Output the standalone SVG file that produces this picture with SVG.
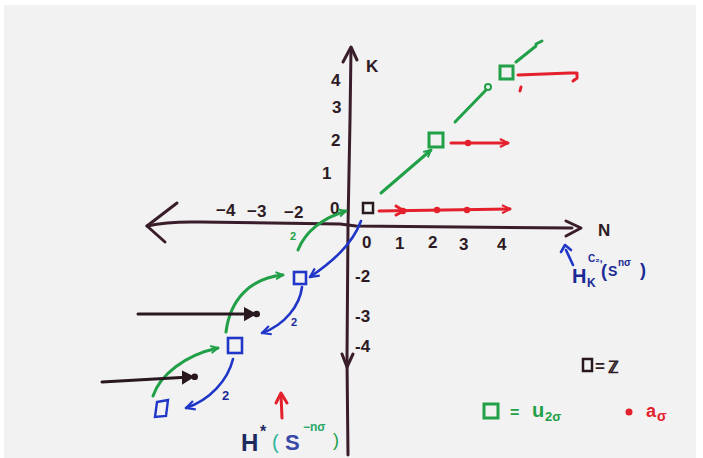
<svg xmlns="http://www.w3.org/2000/svg" width="703" height="458" viewBox="0 0 703 458">
<defs>
<style>
.ax{fill:none;stroke:#3a1d2a;stroke-width:3;stroke-linecap:round;stroke-linejoin:round}
.g{fill:none;stroke:#22a048;stroke-width:3;stroke-linecap:round;stroke-linejoin:round}
.r{fill:none;stroke:#e4202c;stroke-width:3;stroke-linecap:round;stroke-linejoin:round}
.b{fill:none;stroke:#1f36c8;stroke-width:2.6;stroke-linecap:round;stroke-linejoin:round}
.k{fill:none;stroke:#2a1820;stroke-width:3;stroke-linecap:round;stroke-linejoin:round}
.lbl{font-family:"Liberation Sans",Arial,sans-serif;font-weight:bold;font-size:17px;fill:#2e1a24}
.bl{font-family:"Liberation Sans",Arial,sans-serif;font-weight:bold;fill:#1c2a96}
.gl{font-family:"Liberation Sans",Arial,sans-serif;font-weight:bold;fill:#22a048}
.rl{font-family:"Liberation Sans",Arial,sans-serif;font-weight:bold;fill:#e4202c}
</style>
<marker id="mg" viewBox="0 0 10 10" refX="9" refY="5" markerWidth="9" markerHeight="9" markerUnits="userSpaceOnUse" orient="auto"><path d="M1,1 L9,5 L1,9" fill="none" stroke="#22a048" stroke-width="2.2"/></marker>
<marker id="mr" viewBox="0 0 10 10" refX="9" refY="5" markerWidth="10" markerHeight="10" markerUnits="userSpaceOnUse" orient="auto"><path d="M1,1 L9,5 L1,9" fill="none" stroke="#e4202c" stroke-width="2.2"/></marker>
<marker id="mb" viewBox="0 0 10 10" refX="9" refY="5" markerWidth="11" markerHeight="11" markerUnits="userSpaceOnUse" orient="auto"><path d="M1,1 L9,5 L1,9" fill="none" stroke="#1f36c8" stroke-width="2"/></marker>
<marker id="mk" viewBox="0 0 12 12" refX="6" refY="6" markerWidth="16" markerHeight="16" markerUnits="userSpaceOnUse" orient="auto"><path d="M0,1.5 L8,6 L0,10.5 Z" fill="#2a1820" stroke="#2a1820" stroke-width="1.5"/><circle cx="9.5" cy="6" r="2.5" fill="#2a1820"/></marker>
</defs>
<rect x="0" y="0" width="703" height="458" fill="#ffffff"/>
<rect x="4" y="5" width="692" height="453" fill="#f1f2f1"/>

<g id="axes">
<path class="ax" d="M351,49 L350,120 L348,225 L347,360 L348,455"/>
<path class="ax" d="M343,62 L351,47 L357,60"/>
<path class="ax" d="M342,354 L347,367 L353,354"/>
<path class="ax" d="M147,226 C170,221 185,222 200,222 L340,224 L356,226 L572,228"/>
<path class="ax" d="M177,203 L147,226 L165,242"/>
<path class="ax" d="M566,221 L581,228 L566,236"/>
<text class="lbl" x="366" y="72" font-size="18">K</text>
<text class="lbl" x="598" y="236" font-size="18">N</text>
<text class="lbl" x="331" y="86">4</text>
<text class="lbl" x="332" y="113">3</text>
<text class="lbl" x="331" y="146">2</text>
<text class="lbl" x="322" y="179">1</text>
<text class="lbl" x="330" y="214">0</text>
<text class="lbl" x="216" y="216">−4</text>
<text class="lbl" x="247" y="217">−3</text>
<text class="lbl" x="284" y="218">−2</text>
<text class="lbl" x="362" y="248" font-size="15">0</text>
<text class="lbl" x="395" y="249">1</text>
<text class="lbl" x="428" y="248">2</text>
<text class="lbl" x="459" y="250">3</text>
<text class="lbl" x="497" y="250">4</text>
<text class="lbl" x="355" y="282">-2</text>
<text class="lbl" x="355" y="322">-3</text>
<text class="lbl" x="355" y="352">-4</text>
</g>

<g id="node-origin"><rect x="363" y="203" width="10" height="10" fill="none" stroke="#2a1820" stroke-width="2.5"/></g>
<g id="node-g1"><rect x="429" y="133" width="14" height="14" fill="none" stroke="#22a048" stroke-width="3"/></g>
<g id="node-g2"><rect x="500" y="66" width="13" height="13" fill="none" stroke="#22a048" stroke-width="3"/></g>
<g id="node-b1"><rect x="294" y="272" width="12" height="12" fill="none" stroke="#1f36c8" stroke-width="2.6"/></g>
<g id="node-b2"><rect x="228" y="338" width="14" height="15" fill="none" stroke="#1f36c8" stroke-width="2.6"/></g>
<g id="node-b3"><path d="M157,402 L168,400 L166,416 L155,417 Z" fill="none" stroke="#1f36c8" stroke-width="2.4"/></g>

<g id="connectors">
<path class="r" d="M379,211 L510,209" marker-end="url(#mr)"/>
<path class="r" d="M396,206 L404,211 L396,215"/>
<circle cx="403" cy="211" r="3.2" fill="#e4202c"/>
<circle cx="437" cy="210" r="3.2" fill="#e4202c"/>
<circle cx="467" cy="210" r="3.2" fill="#e4202c"/>
<path class="r" d="M451,143 L508,143" marker-end="url(#mr)"/>
<circle cx="468" cy="143" r="3.2" fill="#e4202c"/>
<path class="r" d="M518,75 L570,73 L577,73 L577,78 L573,81"/>
<path class="r" d="M521,87 L520,91" stroke-width="2"/>
<path class="g" d="M381,193 L431,150" marker-end="url(#mg)"/>
<path class="g" d="M455,122 L486,90"/>
<circle cx="488" cy="87" r="3" fill="none" stroke="#22a048" stroke-width="2"/>
<path class="g" d="M516,62 L536,46"/>
<path class="g" d="M536,44 L542,41" stroke-width="2" stroke="#5fb87a"/>
<path class="g" d="M298,250 C305,232 322,218 346,211" marker-end="url(#mg)"/>
<text class="gl" x="290" y="240" font-size="11">2</text>
<path class="b" d="M361,221 C352,245 332,262 310,277" marker-end="url(#mb)"/>
<path class="g" d="M226,332 C230,300 250,278 283,275" marker-end="url(#mg)"/>
<path class="b" d="M302,287 C300,305 285,325 262,333" marker-end="url(#mb)"/>
<text class="bl" x="291" y="326" font-size="11">2</text>
<path class="k" d="M138,314 L252,314" marker-end="url(#mk)"/>
<path class="g" d="M153,396 C160,375 185,355 218,348" marker-end="url(#mg)"/>
<path class="b" d="M233,359 C228,380 210,400 186,408" marker-end="url(#mb)"/>
<text class="bl" x="222" y="400" font-size="13">2</text>
<path class="k" d="M102,382 L190,377" marker-end="url(#mk)"/>
<path class="r" d="M282,418 L281,395"/>
<path class="r" d="M276,403 L281,393 L287,403"/>
<path class="b" d="M573,265 L566,250" stroke="#1c2a96"/>
<path class="b" d="M561,252 L565,245 L571,250" stroke="#1c2a96"/>
</g>

<g id="label-bottom">
<text x="241" y="451" font-family="Liberation Sans, Arial, sans-serif" font-weight="bold" font-size="24" fill="#1c2a60">H</text>
<text x="260" y="437" font-family="Liberation Sans, Arial, sans-serif" font-weight="bold" font-size="16" fill="#1c2a60">*</text>
<text x="272" y="449" font-family="Liberation Sans, Arial, sans-serif" font-size="20" fill="#2ab59a">(</text>
<text x="285" y="450" font-family="Liberation Sans, Arial, sans-serif" font-weight="bold" font-size="22" fill="#3a48a8">S</text>
<text x="303" y="431" font-family="Liberation Sans, Arial, sans-serif" font-weight="bold" font-size="12" fill="#2aa86a">−nσ</text>
<text x="333" y="446" font-family="Liberation Sans, Arial, sans-serif" font-size="18" fill="#22a048">)</text>
</g>

<g id="label-right">
<text class="bl" x="572" y="283" font-size="20">H</text>
<text class="bl" x="587" y="287" font-size="12">K</text>
<text class="bl" x="588" y="262" font-size="10">C₂,</text>
<text class="bl" x="601" y="277" font-size="18" font-weight="normal">(</text>
<text class="bl" x="608" y="276" font-size="14">S</text>
<text class="bl" x="618" y="266" font-size="10">nσ</text>
<text class="bl" x="640" y="276" font-size="18" font-weight="normal">)</text>
</g>

<g id="legend">
<rect x="583" y="359" width="9" height="12" fill="none" stroke="#2a1820" stroke-width="2.5"/>
<text class="lbl" x="595" y="372" font-size="14">=</text>
<text class="lbl" x="608" y="373" font-size="18">ℤ</text>
<rect x="484" y="404" width="14" height="14" fill="none" stroke="#22a048" stroke-width="3"/>
<text class="gl" x="510" y="418" font-size="16">=</text>
<text class="gl" x="532" y="417" font-size="20">u</text>
<text class="gl" x="545" y="421" font-size="13">2σ</text>
<circle cx="629" cy="412" r="3.5" fill="#e4202c"/>
<text class="rl" x="646" y="417" font-size="18">a</text>
<text class="rl" x="657" y="421" font-size="14">σ</text>
</g>
</svg>
